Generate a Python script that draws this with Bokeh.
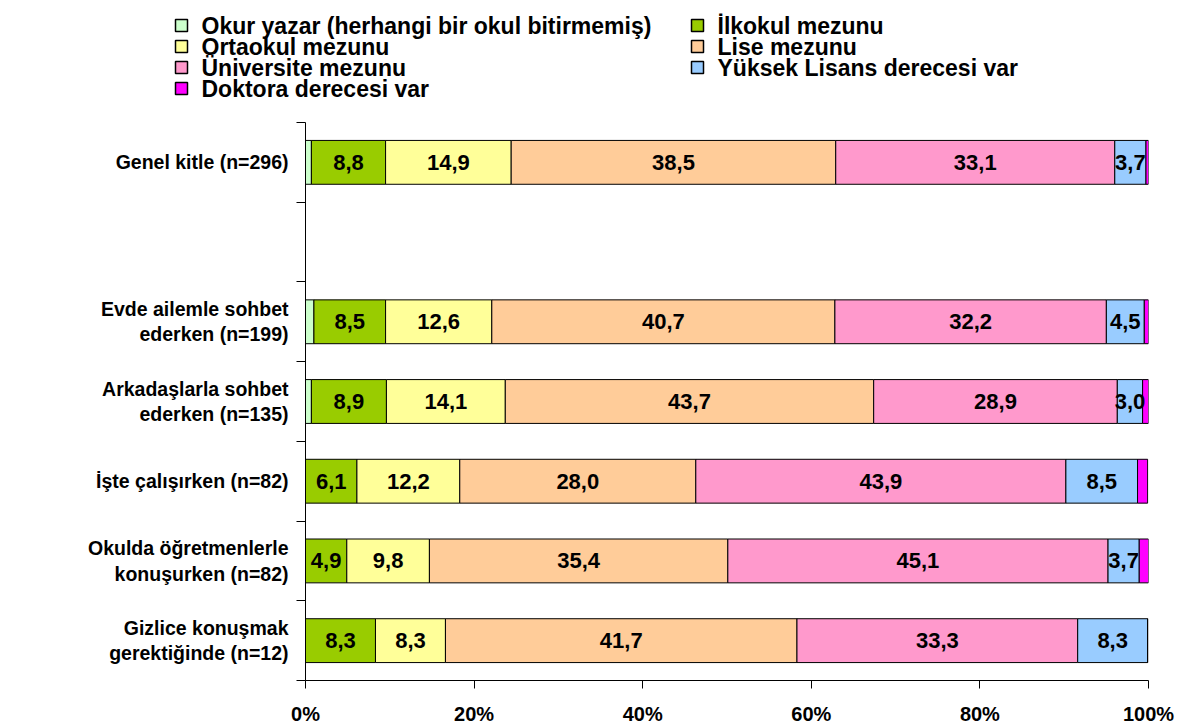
import numpy as np
from bokeh.plotting import figure
from bokeh.layouts import column, row
from bokeh.models import Range1d, FixedTicker, ColumnDataSource
from bokeh.core.properties import value
from bokeh.embed import file_html
from bokeh.resources import INLINE

# ---------------- data ----------------
categories = [
    "Genel kitle (n=296)",
    None,
    "Evde ailemle sohbet\nederken (n=199)",
    "Arkadaşlarla sohbet\nederken (n=135)",
    "İşte çalışırken (n=82)",
    "Okulda öğretmenlerle\nkonuşurken (n=82)",
    "Gizlice konuşmak\ngerektiğinde (n=12)",
]
series_names = [
    "Okur yazar (herhangi bir okul bitirmemiş)",
    "İlkokul mezunu",
    "Ortaokul mezunu",
    "Lise mezunu",
    "Üniversite mezunu",
    "Yüksek Lisans derecesi var",
    "Doktora derecesi var",
]
colors = ["#CCFFCC", "#99CC00", "#FFFF99", "#FFCC99", "#FF99CC", "#99CCFF", "#FF00FF"]

# values per category row (None row = gap)
okur_yazar = [0.7, 0, 1.0, 0.7, 0.0, 0.0, 0.0]
ilkokul    = [8.8, 0, 8.5, 8.9, 6.1, 4.9, 8.3]
ortaokul   = [14.9, 0, 12.6, 14.1, 12.2, 9.8, 8.3]
lise       = [38.5, 0, 40.7, 43.7, 28.0, 35.4, 41.7]
universite = [33.1, 0, 32.2, 28.9, 43.9, 45.1, 33.3]
yuksek     = [3.7, 0, 4.5, 3.0, 8.5, 3.7, 8.3]
doktora    = [0.3, 0, 0.5, 0.7, 1.2, 1.2, 0.0]
series_values = [okur_yazar, ilkokul, ortaokul, lise, universite, yuksek, doktora]

x_ticks = [0, 20, 40, 60, 80, 100]
x_tick_labels = ["0%", "20%", "40%", "60%", "80%", "100%"]

FONT = "Liberation Sans"
W = 1200
LEG_H = 118
n = len(categories)
ypos = [n - i - 0.5 for i in range(n)]
rows = [i for i, c in enumerate(categories) if c is not None]

# ---------------- main chart ----------------
p = figure(width=W, height=728 - LEG_H, output_backend="svg", toolbar_location=None,
           x_range=Range1d(0, 100), y_range=Range1d(0, n),
           min_border_left=305, min_border_right=52, min_border_top=4, min_border_bottom=48)
p.outline_line_color = None
p.grid.visible = False
p.background_fill_color = "white"
p.border_fill_color = "white"

left = np.zeros(n)
lab_x, lab_y, lab_t = [], [], []
for name, col, vals in zip(series_names, colors, series_values):
    v = np.array(vals, dtype=float)
    src = ColumnDataSource(dict(
        y=[ypos[i] for i in rows],
        left=[left[i] for i in rows],
        right=[left[i] + v[i] for i in rows],
    ))
    p.hbar(y="y", left="left", right="right", height=0.55, source=src,
           fill_color=col, line_color="black", line_width=1)
    for i in rows:
        if v[i] >= 3:
            lab_x.append(left[i] + v[i] / 2)
            lab_y.append(ypos[i])
            lab_t.append(f"{v[i]:.1f}".replace(".", ","))
    left = left + v

p.text(x=lab_x, y=lab_y, text=lab_t, text_align="center", text_baseline="middle",
       text_font=value(FONT), text_font_style="bold", text_font_size="22px", text_color="black")

xa = p.xaxis[0]
xa.ticker = FixedTicker(ticks=x_ticks)
xa.major_label_overrides = {t: l for t, l in zip(x_ticks, x_tick_labels)}
xa.major_tick_out = 8
xa.major_tick_in = 0
xa.minor_tick_out = 0
xa.minor_tick_in = 0
xa.major_label_standoff = 14
xa.major_label_text_font = FONT
xa.major_label_text_font_style = "bold"
xa.major_label_text_font_size = "20px"
xa.major_label_text_color = "black"
xa.axis_line_color = "black"
xa.major_tick_line_color = "black"

ya = p.yaxis[0]
ya.ticker = FixedTicker(ticks=[ypos[i] for i in rows], minor_ticks=list(range(0, n + 1)))
ya.major_label_overrides = {ypos[i]: categories[i] for i in rows}
ya.major_tick_out = 0
ya.major_tick_in = 0
ya.minor_tick_out = 9
ya.minor_tick_in = 0
ya.major_label_standoff = 8
ya.major_label_text_font = FONT
ya.major_label_text_font_style = "bold"
ya.major_label_text_font_size = "19.5px"
ya.major_label_text_color = "black"
ya.major_label_text_line_height = 1.15
ya.major_label_text_align = "center"
ya.axis_line_color = "black"
ya.minor_tick_line_color = "black"

# ---------------- legend strip (pixel coordinates) ----------------
lg = figure(width=W, height=LEG_H, output_backend="svg", toolbar_location=None,
            x_range=Range1d(0, W), y_range=Range1d(LEG_H, 0),
            x_axis_location=None, y_axis_location=None,
            min_border_left=0, min_border_right=0, min_border_top=0, min_border_bottom=0)
lg.outline_line_color = None
lg.grid.visible = False
lg.border_fill_color = "white"

leg_col_x = [181, 697]
leg_row_y = [25, 46, 67, 88]
sw_x, sw_y, tx_x, tx_y = [], [], [], []
for k in range(len(series_names)):
    c, r = k % 2, k // 2
    sw_x.append(leg_col_x[c]); sw_y.append(leg_row_y[r])
    tx_x.append(leg_col_x[c] + 20); tx_y.append(leg_row_y[r])
lg.rect(x=sw_x, y=sw_y, width=12, height=12, fill_color=colors, line_color="black", line_width=1.5)
lg.text(x=tx_x, y=tx_y, text=series_names, text_align="left", text_baseline="middle",
        text_font=value(FONT), text_font_style="bold", text_font_size="23px", text_color="black")

layout = column(row(lg, spacing=0), p, spacing=0)
open("out.html", "w").write(file_html(layout, INLINE))
